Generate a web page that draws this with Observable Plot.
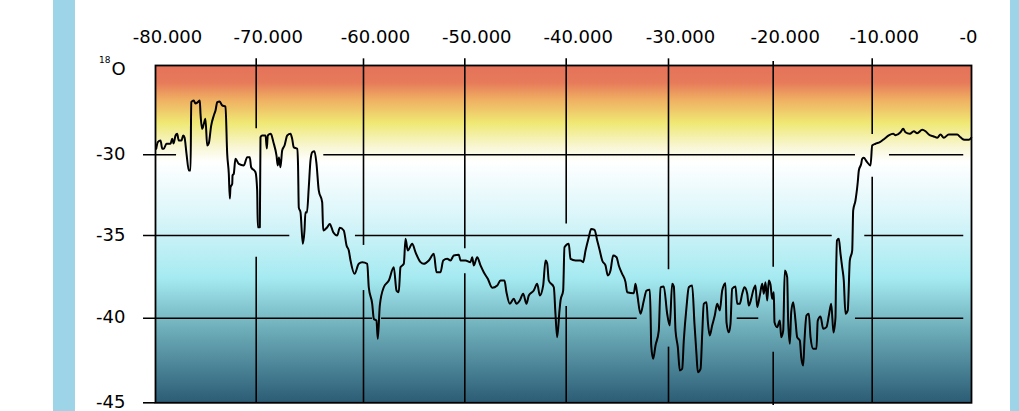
<!DOCTYPE html>
<html>
<head>
<meta charset="utf-8">
<script src="https://cdn.jsdelivr.net/npm/d3@7"></script>
<script src="https://cdn.jsdelivr.net/npm/@observablehq/plot@0.6"></script>
<style>
  html, body { margin: 0; padding: 0; background: #ffffff; }
  #wrap { position: relative; width: 1019px; height: 411px; overflow: hidden; }
  .bar { position: absolute; top: 0; height: 411px; background: #9ed4e8; z-index: 2; }
</style>
</head>
<body>
<div id="wrap">
  <div class="bar" style="left:53px;width:22px;"></div>
  <div class="bar" style="left:1010px;width:9px;"></div>
  <div id="chart"></div>
</div>
<script>
// ---- data (years before present, δ18O permil) ----
const years = [
-79930,-79770,-79500,-79330,-79180,-78910,-78510,-78340,-78210,-78010,
-77850,-77690,-77420,-77250,-77120,-76920,-76690,-76520,-76450,-76200,
-76030,-75800,-75600,-75530,-75360,-75200,-75040,-74870,-74710,-74470,
-74210,-74040,-73870,-73620,-73380,-73050,-72880,-72720,-72620,-72550,
-72380,-72350,-72230,-72060,-71730,-71230,-70890,-70640,-70500,-70070,
-69910,-69850,-69660,-69600,-69440,-69130,-69010,-68920,-68640,-68390,
-68110,-67990,-67880,-67740,-67580,-67360,-67110,-66800,-66650,-66500,
-66180,-66100,-66030,-65870,-65660,-65500,-65410,-65270,-65100,-64940,
-64780,-64570,-64380,-64170,-63850,-63760,-63380,-63140,-62820,-62450,
-62210,-61840,-61580,-61370,-61210,-60840,-60440,-60120,-59630,-59480,
-59140,-58980,-58720,-58590,-58390,-58000,-57500,-57010,-56740,-56520,
-56350,-56020,-55850,-55630,-55190,-54870,-54370,-54050,-53550,-53060,
-52790,-52400,-52130,-51740,-51410,-51090,-50590,-50420,-49930,-49440,
-49270,-49110,-48780,-48450,-48130,-47730,-47300,-46800,-46480,-46090,
-45890,-45560,-45170,-44900,-44580,-44240,-43920,-43690,-43200,-42860,
-42600,-42270,-42040,-41870,-41720,-41220,-41060,-40890,-40660,-40560,
-40300,-40170,-39750,-39580,-39090,-38600,-38340,-38110,-37790,-37560,
-37230,-36970,-36720,-36480,-36160,-35930,-35670,-35410,-35080,-34860,
-34530,-34200,-34040,-33390,-33230,-33060,-32740,-32410,-32150,-31830,
-31740,-31690,-31500,-31270,-30950,-30780,-30460,-30130,-29880,-29650,
-29490,-29330,-29110,-28920,-28690,-28540,-28280,-28060,-27740,-27520,
-27330,-27200,-26940,-26780,-26630,-26370,-26250,-26060,-25830,-25580,
-25350,-25100,-24870,-24560,-24460,-24240,-24080,-23920,-23600,-23440,
-23190,-22960,-22740,-22480,-22330,-22100,-21910,-21690,-21530,-21280,
-21050,-20900,-20740,-20570,-20420,-20260,-20100,-19940,-19870,-19600,
-19330,-19190,-18990,-18830,-18590,-18490,-18320,-18180,-17980,-17750,
-17580,-17310,-17170,-16970,-16840,-16640,-16400,-16230,-15960,-15630,
-15500,-15220,-14950,-14620,-14380,-14140,-13910,-13710,-13660,-13560,
-13370,-13200,-13030,-12870,-12700,-12470,-12260,-12020,-11920,-11690,
-11460,-11350,-11110,-11010,-10850,-10580,-10170,-10000,-9670,-9230,
-8760,-8330,-7890,-7650,-7150,-6880,-6650,-6210,-5810,-5470,
-4960,-4630,-4300,-3800,-3450,-3120,-2790,-2290,-1440,-1110,
-700,-270,-30
];
const d18O = [
-29.63,-29.22,-29.12,-29.63,-29.63,-29.32,-29.32,-29.01,-29.30,-28.81,
-28.71,-29.12,-29.12,-28.81,-28.92,-29.94,-30.97,-30.97,-26.76,-26.66,
-26.84,-26.76,-26.66,-27.48,-28.40,-28.09,-27.78,-29.43,-29.30,-28.20,
-27.58,-27.27,-26.76,-26.72,-26.96,-27.03,-29.94,-31.18,-32.71,-32.01,
-31.80,-31.28,-31.18,-30.25,-30.56,-30.66,-30.15,-30.15,-30.77,-31.08,
-32.21,-34.49,-34.49,-28.92,-28.81,-28.81,-29.61,-28.81,-28.71,-29.24,
-30.04,-30.66,-30.17,-30.77,-29.74,-29.43,-28.81,-28.71,-29.01,-29.53,
-29.63,-30.66,-33.27,-33.56,-35.50,-34.69,-33.56,-33.58,-32.01,-30.35,
-29.84,-29.78,-30.56,-32.21,-32.94,-34.69,-34.49,-34.28,-34.80,-35.00,
-34.52,-34.69,-35.60,-35.91,-36.51,-37.32,-36.71,-36.61,-36.71,-38.13,
-39.13,-40.04,-40.14,-41.22,-39.23,-38.13,-37.72,-36.92,-38.33,-38.43,
-36.92,-36.71,-35.20,-35.91,-35.50,-36.01,-36.61,-36.71,-36.51,-36.11,
-37.22,-37.22,-36.51,-36.41,-36.51,-36.21,-36.17,-36.51,-36.51,-36.61,
-36.31,-36.81,-36.31,-36.81,-37.22,-37.62,-38.16,-38.02,-37.72,-37.72,
-38.43,-39.13,-38.83,-39.13,-38.93,-38.52,-39.13,-38.63,-38.33,-37.92,
-38.63,-38.02,-36.51,-36.71,-37.72,-38.13,-39.73,-41.12,-39.53,-38.93,
-38.33,-35.71,-35.50,-36.41,-36.51,-36.51,-36.61,-35.91,-35.10,-34.59,
-34.65,-35.30,-35.91,-36.51,-36.81,-37.42,-37.12,-36.21,-36.31,-36.81,
-37.32,-37.82,-38.43,-38.49,-37.92,-38.52,-39.73,-38.93,-38.33,-38.28,
-40.14,-41.61,-42.40,-41.61,-40.73,-38.13,-38.08,-39.73,-40.43,-37.92,
-38.08,-40.73,-41.71,-43.09,-42.99,-41.32,-39.33,-38.13,-38.02,-40.33,
-42.10,-43.19,-42.99,-40.92,-39.13,-39.03,-40.14,-41.02,-40.43,-39.84,
-39.13,-39.53,-38.33,-37.88,-40.24,-40.83,-40.33,-38.22,-38.08,-39.13,
-39.13,-38.52,-38.13,-38.52,-39.23,-38.83,-38.33,-38.02,-39.33,-38.63,
-37.92,-38.52,-37.82,-38.93,-37.72,-37.96,-38.83,-38.43,-40.24,-40.53,
-40.14,-41.12,-40.73,-37.12,-37.52,-40.14,-41.51,-39.64,-39.03,-40.14,
-41.12,-41.32,-42.30,-42.80,-41.32,-39.84,-39.73,-41.12,-41.81,-41.81,
-40.14,-39.90,-40.63,-40.53,-39.84,-39.13,-40.85,-39.96,-37.90,-35.30,
-35.20,-36.11,-36.92,-37.72,-39.73,-39.53,-36.51,-35.91,-33.45,-32.83,
-31.70,-30.97,-30.56,-30.25,-30.19,-30.40,-30.66,-29.43,-29.32,-29.22,
-29.01,-28.81,-28.71,-28.79,-28.61,-28.40,-28.61,-28.71,-28.55,-28.67,
-28.46,-28.55,-28.75,-28.87,-28.95,-28.75,-28.95,-28.75,-28.75,-28.92,
-29.08,-29.08,-28.95
];

// axis ticks and labels
const xTicks = [-80000,-70000,-60000,-50000,-40000,-30000,-20000,-10000,0];
const xTickLabels = ["-80.000","-70.000","-60.000","-50.000","-40.000","-30.000","-20.000","-10.000","-0"];
const yTicks = [-30,-35,-40,-45];
const yTickLabels = ["-30","-35","-40","-45"];

// grid line pieces (interrupted by the curve), in data units
const hGridY  = [-30,-30,-30,-35,-35,-35,-40,-40,-40,-40,-45];
const hGridX1 = [-81190,-63700,-8260,-81190,-60750,-10750,-81190,-58220,-23440,-11690,-81190];
const hGridX2 = [-77910,-11690,-780,-66870,-14040,-780,-59110,-33060,-21380,-780,-80000];
const vGridX  = [-70000,-70000,-60000,-60000,-50000,-50000,-40000,-40000,-30000,-30000,-20000,-20000,-10000,-10000];
const vGridY1 = [-24.09,-36.31,-24.09,-38.33,-24.09,-37.32,-24.09,-39.29,-24.09,-41.71,-24.25,-42.01,-24.09,-31.39];
const vGridY2 = [-28.40,-45,-35.60,-45,-35.80,-45,-34.28,-45,-37.07,-45,-36.92,-45.16,-28.75,-45];

// ---- styling ----
const FONT = "DejaVu Sans";
const gradStops = [
  [0, "#e5725a"], [0.05, "#e67a5a"], [0.10, "#efae62"], [0.17, "#efe874"],
  [0.24, "#f8f6d2"], [0.285, "#ffffff"], [0.44, "#dcf6fa"], [0.63, "#a5eaf1"],
  [0.78, "#6eaeba"], [1, "#2b5c75"]
];

function gradientDefs() {
  const defs = d3.create("svg:defs");
  const g = defs.append("linearGradient").attr("id", "bgGrad")
    .attr("x1", 0).attr("y1", 0).attr("x2", 0).attr("y2", 1);
  gradStops.forEach(([o, c]) => g.append("stop").attr("offset", o).attr("stop-color", c));
  return defs.node();
}

const n = Math.min(years.length, d18O.length);
const idx = d3.range(n);
const hIdx = d3.range(hGridY.length);
const vIdx = d3.range(vGridX.length);

const chart = Plot.plot({
  width: 1019,
  height: 411,
  marginTop: 65,
  marginLeft: 155,
  marginRight: 48,
  marginBottom: 8.7,
  style: {fontFamily: FONT, background: "transparent", overflow: "visible"},
  x: {type: "linear", domain: xTicks, range: [155, 255.7, 363, 464.3, 565.7, 668, 772.7, 871.7, 971], axis: null},
  y: {type: "linear", domain: [-45, -40, -35, -30, -24.5], range: [402.3, 317.7, 235, 154.3, 65], axis: null},
  marks: [
    gradientDefs,
    Plot.frame({fill: "url(#bgGrad)", stroke: "none"}),
    Plot.ruleY(hIdx, {y: i => hGridY[i], x1: i => hGridX1[i], x2: i => hGridX2[i], stroke: "black", strokeWidth: 1.6}),
    Plot.ruleX(vIdx, {x: i => vGridX[i], y1: i => vGridY1[i], y2: i => vGridY2[i], stroke: "black", strokeWidth: 1.6}),
    Plot.line(idx, {x: i => years[i], y: i => d18O[i], curve: "monotone-x", stroke: "black", strokeWidth: 2, strokeLinejoin: "round", strokeLinecap: "round"}),
    Plot.frame({stroke: "black", strokeWidth: 1.8}),
    Plot.text(xTicks.slice(0, -1), {x: d => d, text: (d, i) => xTickLabels[i], frameAnchor: "top", lineAnchor: "bottom", dy: -22.3, dx: 12, fontSize: 18, fill: "black"}),
    Plot.text(xTicks.slice(-1), {x: d => d, text: () => xTickLabels[xTickLabels.length - 1], frameAnchor: "top", lineAnchor: "bottom", dy: -22.3, dx: -3, fontSize: 18, fill: "black"}),
    Plot.text(yTicks, {y: d => d, text: (d, i) => yTickLabels[i], frameAnchor: "left", textAnchor: "end", lineAnchor: "bottom", dx: -30, dy: 5, fontSize: 18, fill: "black"}),
    Plot.text(["O"], {frameAnchor: "top-left", textAnchor: "start", lineAnchor: "bottom", dx: -44, dy: 9, fontSize: 18, fill: "black"}),
    Plot.text(["18"], {frameAnchor: "top-left", textAnchor: "start", lineAnchor: "bottom", dx: -56.5, dy: -2.3, fontSize: 9, fill: "black"})
  ]
});
document.getElementById("chart").appendChild(chart);
</script>
</body>
</html>
